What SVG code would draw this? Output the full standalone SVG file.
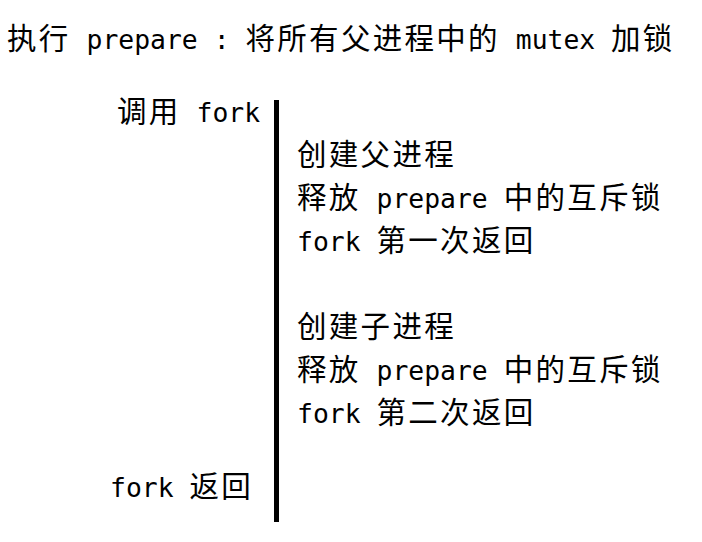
<svg xmlns="http://www.w3.org/2000/svg" width="702" height="542" viewBox="0 0 702 542">
<style>
text{fill:#000}
.c{font-family:"Noto Sans CJK SC","Noto Sans CJK JP",sans-serif;font-size:29.5px;letter-spacing:2.3px}
.l{font-family:"DejaVu Sans Mono","Liberation Mono",monospace;font-size:26.4px}
</style>
<rect width="702" height="542" fill="#fff"/>
<g id="title">
<text y="49"><tspan class="c" x="7">执行 </tspan><tspan class="l" x="86.5">prepare </tspan><tspan class="l" x="213.7">: </tspan><tspan class="c" x="245.5">将所有父进程中的 </tspan><tspan class="l" x="515.8">mutex </tspan><tspan class="c" x="611">加锁</tspan></text>
</g>
<g id="timeline">
<rect x="274" y="100" width="5" height="422" fill="#000"/>
</g>
<g id="call-fork">
<text y="122"><tspan class="c" x="117">调用 </tspan><tspan class="l" x="196.5">fork</tspan></text>
</g>
<g id="parent">
<text y="165"><tspan class="c" x="297">创建父进程</tspan></text>
<text y="208"><tspan class="c" x="297">释放 </tspan><tspan class="l" x="376.5">prepare </tspan><tspan class="c" x="503.7">中的互斥锁</tspan></text>
<text y="251"><tspan class="l" x="297">fork </tspan><tspan class="c" x="376.5">第一次返回</tspan></text>
</g>
<g id="child">
<text y="337"><tspan class="c" x="297">创建子进程</tspan></text>
<text y="380"><tspan class="c" x="297">释放 </tspan><tspan class="l" x="376.5">prepare </tspan><tspan class="c" x="503.7">中的互斥锁</tspan></text>
<text y="423"><tspan class="l" x="297">fork </tspan><tspan class="c" x="376.5">第二次返回</tspan></text>
</g>
<g id="fork-return">
<text y="497"><tspan class="l" x="110">fork </tspan><tspan class="c" x="189.5">返回</tspan></text>
</g>
</svg>
